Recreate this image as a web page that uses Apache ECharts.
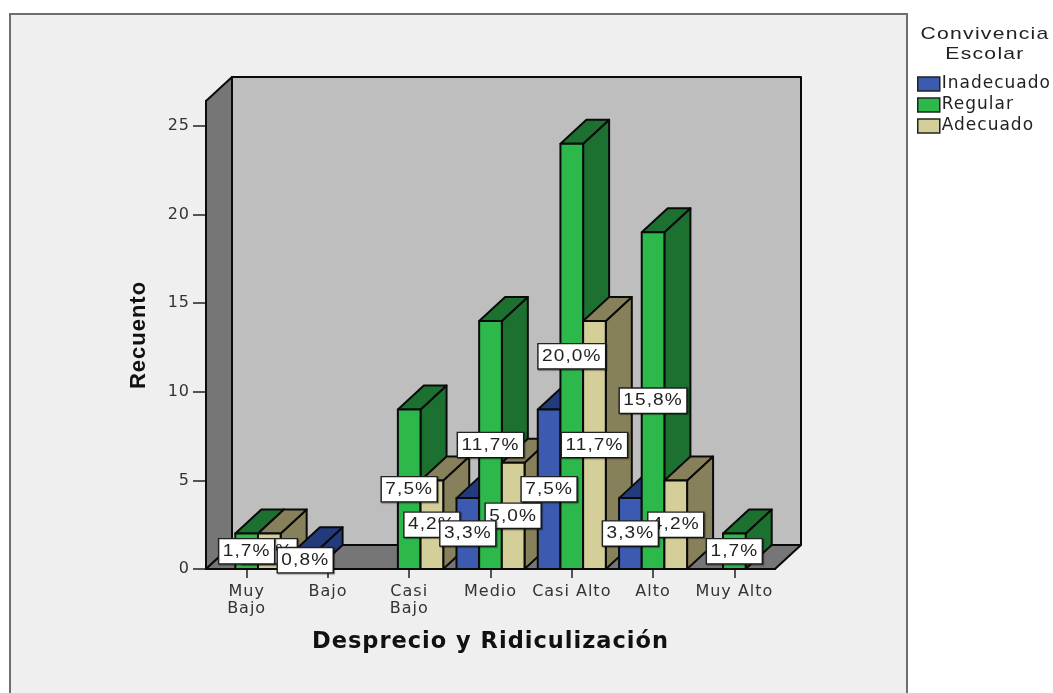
<!DOCTYPE html>
<html>
<head>
<meta charset="utf-8">
<style>html,body{margin:0;padding:0;background:#fff}#c{width:1053px;height:693px}</style>
<script src="https://cdn.jsdelivr.net/npm/echarts@6/dist/echarts.min.js"></script>
</head>
<body>
<div id="c"></div>
<script>
// The reference's lettering is horizontally wide: add a little tracking to all canvas text.
const nativeGetContext = HTMLCanvasElement.prototype.getContext;
HTMLCanvasElement.prototype.getContext = function () {
  const ctx = nativeGetContext.apply(this, arguments);
  if (ctx && 'letterSpacing' in ctx) ctx.letterSpacing = '1px';
  return ctx;
};

const categories = ['Muy\nBajo', 'Bajo', 'Casi\nBajo', 'Medio', 'Casi Alto', 'Alto', 'Muy Alto'];
const inadecuado = [0, 1, 0, 4, 9, 4, 0];
const regular = [2, 0, 9, 14, 24, 19, 2];
const adecuado = [2, 0, 5, 6, 14, 5, 0];
const inadecuadoPct = ['', '0,8%', '', '3,3%', '7,5%', '3,3%', ''];
const regularPct = ['1,7%', '', '7,5%', '11,7%', '20,0%', '15,8%', '1,7%'];
const adecuadoPct = ['1,7%', '', '4,2%', '5,0%', '11,7%', '4,2%', ''];
const yTicks = [0, 5, 10, 15, 20, 25];

const DEPTH_X = 26, DEPTH_Y = 24, SLOT = 0.279;
const AXIS_FONT = '"DejaVu Sans"';

function barRenderer(seriesIdx, faces, pct) {
  return function (params, api) {
    const cat = api.value(0), val = api.value(1);
    if (!val) return null;
    const base = api.coord([cat, 0]);
    const top = api.coord([cat, val]);
    const w = api.size([1, 0])[0] * SLOT;
    const x0 = base[0] + (seriesIdx - 1.5) * w, x1 = x0 + w;
    const yb = base[1], yt = top[1];
    const z = cat * 10 + seriesIdx;
    const line = { stroke: '#0a0a0a', lineWidth: 2, lineJoin: 'round' };
    const poly = (points, fill, zz) => ({
      type: 'polygon', z2: zz, silent: true,
      shape: { points }, style: Object.assign({ fill }, line)
    });
    const children = [
      poly([[x1, yb], [x1 + DEPTH_X, yb - DEPTH_Y], [x1 + DEPTH_X, yt - DEPTH_Y], [x1, yt]], faces.side, z),
      poly([[x0, yt], [x0 + DEPTH_X, yt - DEPTH_Y], [x1 + DEPTH_X, yt - DEPTH_Y], [x1, yt]], faces.side, z),
      poly([[x0, yb], [x1, yb], [x1, yt], [x0, yt]], faces.front, z)
    ];
    children.push({
      type: 'text', silent: true, z2: 1000 + cat * 10 + (2 - seriesIdx),
      x: (x0 + x1) / 2, y: (yb + yt) / 2, scaleX: 1.12,
      style: {
        text: pct[cat], fill: '#222', align: 'center', verticalAlign: 'middle',
        font: '17px "Liberation Sans"', backgroundColor: '#fff',
        borderColor: '#222', borderWidth: 1.3, padding: [3, 3, 3, 3],
        shadowColor: 'rgba(0,0,0,0.45)', shadowBlur: 1, shadowOffsetX: 1, shadowOffsetY: 1
      }
    });
    return { type: 'group', children };
  };
}

function wallRenderer(params, api) {
  const cs = params.coordSys;
  const l = cs.x, r = cs.x + cs.width, t = cs.y, b = cs.y + cs.height;
  const line = { stroke: '#0a0a0a', lineWidth: 2, lineJoin: 'round' };
  const poly = (points, fill) => ({ type: 'polygon', silent: true, shape: { points }, style: Object.assign({ fill }, line) });
  return {
    type: 'group', children: [
      poly([[l + DEPTH_X, t - DEPTH_Y], [r + DEPTH_X, t - DEPTH_Y], [r + DEPTH_X, b - DEPTH_Y], [l + DEPTH_X, b - DEPTH_Y]], '#bebebe'),
      poly([[l, b], [l + DEPTH_X, b - DEPTH_Y], [l + DEPTH_X, t - DEPTH_Y], [l, t]], '#767676'),
      poly([[l, b], [l + DEPTH_X, b - DEPTH_Y], [r + DEPTH_X, b - DEPTH_Y], [r, b]], '#767676')
    ]
  };
}

const toRows = arr => arr.map((v, i) => [i, v]);
const barSeries = (name, arr, pct, idx, faces) => ({
  name, type: 'custom', coordinateSystem: 'cartesian2d', clip: false, z: 2, silent: true,
  itemStyle: { color: faces.front, borderColor: '#111' },
  encode: { x: 0, y: 1 },
  data: toRows(arr), renderItem: barRenderer(idx, faces, pct)
});

const legendIcon = color => ({ color, borderColor: '#222', borderWidth: 1.5 });
const BLUE = { front: '#3c5bb0', side: '#233a7c' };
const GREEN = { front: '#2db84b', side: '#1d7130' };
const TAN = { front: '#d4ce98', side: '#87815b' };

const chart = echarts.init(document.getElementById('c'), null, { renderer: 'canvas' });
chart.setOption({
  animation: false,
  backgroundColor: '#fff',
  grid: { left: 206, right: 278, top: 101, bottom: 124 },
  xAxis: {
    type: 'category', data: categories, name: 'Desprecio y Ridiculización',
    nameLocation: 'middle', nameGap: 61,
    nameTextStyle: { fontFamily: AXIS_FONT, fontWeight: 'bold', fontSize: 22.5, color: '#111' },
    axisLine: { show: true, lineStyle: { color: '#0a0a0a', width: 2 } },
    axisTick: { show: true, alignWithLabel: true, length: 9, lineStyle: { color: '#222', width: 1.5 } },
    axisLabel: { fontFamily: AXIS_FONT, fontSize: 16, color: '#333', margin: 14, lineHeight: 17, interval: 0 },
    splitLine: { show: false }
  },
  yAxis: {
    type: 'value', min: 0, max: 26.41, name: 'Recuento',
    nameLocation: 'middle', nameGap: 56, nameRotate: 90,
    nameTextStyle: { fontFamily: '"Liberation Sans"', fontWeight: 'bold', fontSize: 22, color: '#111' },
    axisLine: { show: true, lineStyle: { color: '#0a0a0a', width: 2 } },
    axisTick: { show: true, length: 13, customValues: yTicks, lineStyle: { color: '#222', width: 1.5 } },
    axisLabel: { fontFamily: AXIS_FONT, fontSize: 16, color: '#333', margin: 16, customValues: yTicks },
    splitLine: { show: false }
  },
  legend: {
    left: 917, top: 75, padding: 0, orient: 'vertical', itemWidth: 22, itemHeight: 14, itemGap: 3,
    icon: 'rect', selectedMode: false,
    textStyle: { fontFamily: AXIS_FONT, fontSize: 17, color: '#222', padding: [0, 0, 0, -3] },
    data: [
      { name: 'Inadecuado', itemStyle: legendIcon(BLUE.front) },
      { name: 'Regular', itemStyle: legendIcon(GREEN.front) },
      { name: 'Adecuado', itemStyle: legendIcon(TAN.front) }
    ]
  },
  graphic: [
    { type: 'rect', z: -10, silent: true, shape: { x: 10, y: 14, width: 897, height: 700 },
      style: { fill: '#efefef', stroke: '#6e6e6e', lineWidth: 2 } },
    { type: 'text', silent: true, x: 985, y: 44, scaleX: 1.245,
      style: { text: 'Convivencia\nEscolar', fill: '#222', align: 'center', verticalAlign: 'middle',
        font: '17px "Liberation Sans"', lineHeight: 20 } }
  ],
  series: [
    { name: 'paredes', type: 'custom', coordinateSystem: 'cartesian2d', clip: false, z: 1, silent: true,
      data: [[0, 0]], renderItem: wallRenderer },
    barSeries('Inadecuado', inadecuado, inadecuadoPct, 0, BLUE),
    barSeries('Regular', regular, regularPct, 1, GREEN),
    barSeries('Adecuado', adecuado, adecuadoPct, 2, TAN)
  ]
});
</script>
</body>
</html>
